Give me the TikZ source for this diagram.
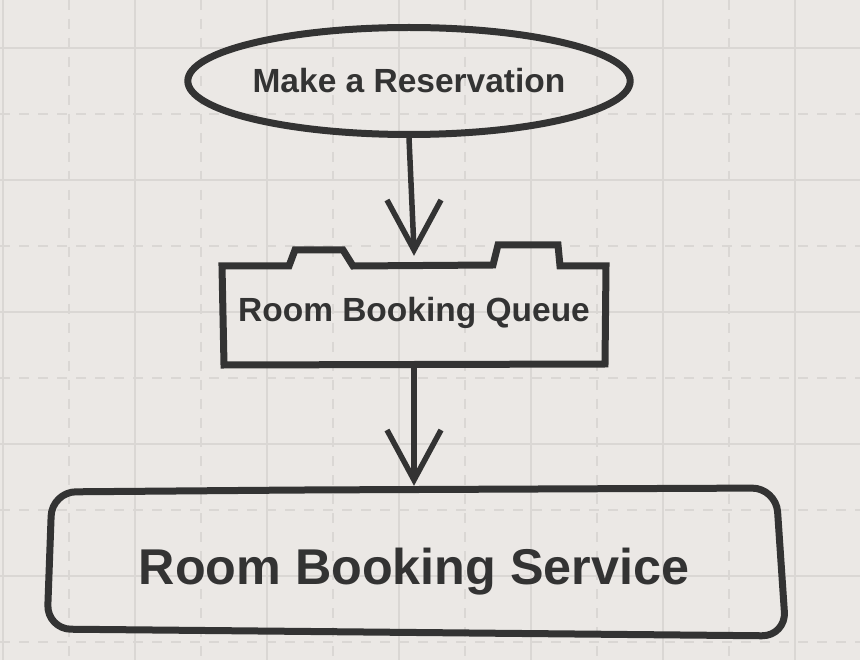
\documentclass[tikz,border=0pt]{standalone}
\usepackage{fontspec}
\setmainfont{Liberation Sans}
\usetikzlibrary{shapes.geometric}
\definecolor{bgc}{RGB}{235,232,229}
\definecolor{gridc}{RGB}{218,215,212}
\definecolor{ink}{RGB}{51,51,51}
\tikzset{
  gridsolid/.style={draw=gridc, line width=1.8pt},
  griddash/.style={draw=gridc, line width=1.8pt, dash pattern=on 10pt off 9pt},
  shapeline/.style={draw=ink, line width=7pt, line join=round},
  conn/.style={draw=ink, line width=5.5pt, line join=miter, line cap=butt},
  lbl/.style={text=ink, font=\bfseries, inner sep=0pt},
}
\begin{document}
\begin{tikzpicture}[x=1pt,y=-1pt]
\useasboundingbox (0,0) rectangle (860,660);
\fill[bgc] (0,0) rectangle (860,660);
% grid
\foreach \x in {3,135,267,399,531,663,795} \draw[gridsolid] (\x,0) -- (\x,660);
\foreach \x in {69,201,333,465,597,729} \draw[griddash] (\x,0) -- (\x,660);
\foreach \y in {48,180,312,444,576} \draw[gridsolid] (0,\y) -- (860,\y);
\foreach \y in {114,246,378,510,642} \draw[griddash] (0,\y) -- (860,\y);
% ellipse
\node[ellipse, shapeline, minimum width=436pt, minimum height=107pt, lbl,
      font=\fontsize{33.5}{38}\selectfont\bfseries, text height=24pt, text depth=0pt]
  (res) at (409,81) {Make a Reservation};
% queue shape
\draw[shapeline, line join=miter]
  (222,266) -- (289,266) -- (295,250) -- (343,250) -- (353,266) -- (493,265)
  -- (498,245) -- (558,245) -- (560,266) -- (606,266) -- (605,364) -- (224,365) -- cycle;
\node[lbl, anchor=base, font=\fontsize{33.5}{38}\selectfont\bfseries] (queue) at (414,322) {Room Booking Queue};
% service box
\draw[shapeline, rounded corners=24pt]
  (300,490) -- (776,488) -- (786,636) -- (47,629) -- (52,492) -- cycle;
\node[lbl, anchor=base, font=\fontsize{50.3}{56}\selectfont\bfseries] (service) at (414,584) {Room Booking Service};
% connectors
\coordinate (tip1) at (414,250);
\coordinate (q1) at (414,367);
\coordinate (tip2) at (414,480);
\draw[conn] (res.south) -- (tip1);
\draw[conn] (tip1) ++(-27,-50) -- (tip1) -- ++(27,-50);
\draw[conn] (q1) -- (tip2);
\draw[conn] (tip2) ++(-27,-50) -- (tip2) -- ++(27,-50);
\end{tikzpicture}
\end{document}
